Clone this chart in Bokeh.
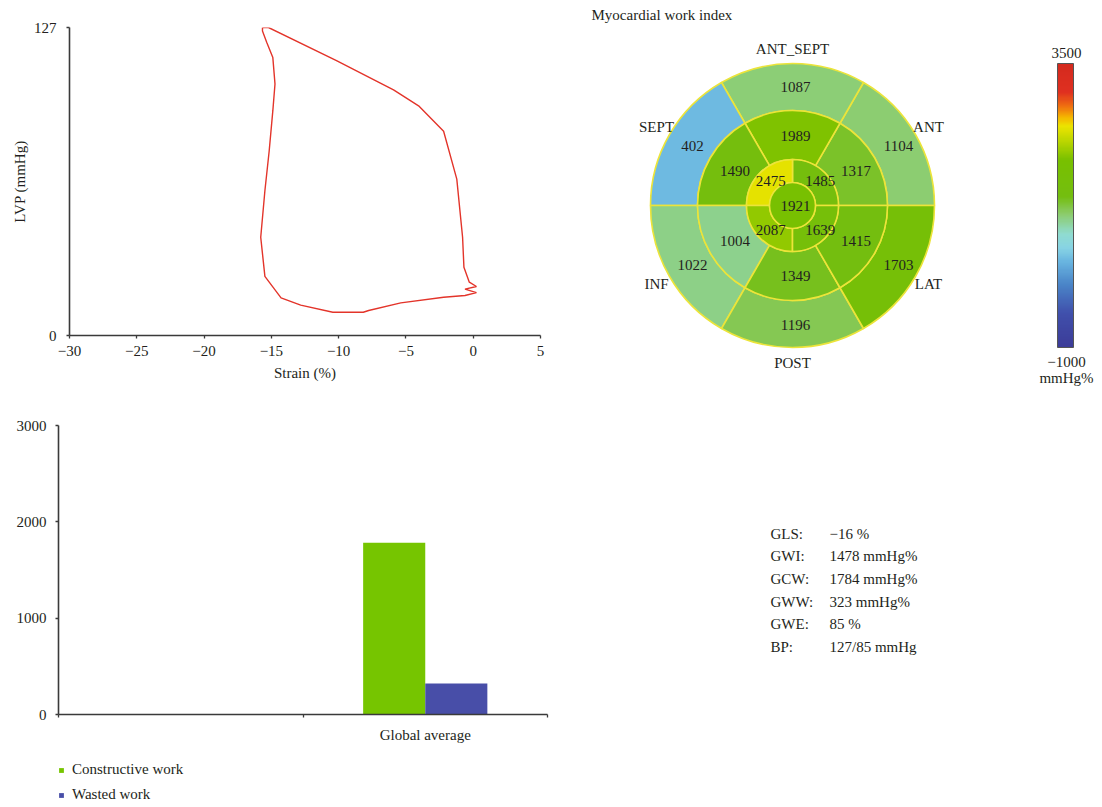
import numpy as np
from bokeh.plotting import figure
from bokeh.layouts import row, column
from bokeh.models import (Range1d, FixedTicker, ColumnDataSource, LinearColorMapper,
                          ColorBar, Legend, LegendItem)
from bokeh.transform import transform, dodge
from bokeh.core.properties import value
from bokeh.embed import file_html
from bokeh.resources import INLINE

# ---------------- data ----------------
# pressure-strain loop
strain = [-15.66, -15.21, -10.16, -5.92, -4.06, -2.20, -1.22, -0.79, -0.69, -0.29,
          0.24, -0.61, 0.24, -0.61, -2.20, -5.38, -7.77, -8.17, -10.43, -12.82,
          -14.28, -15.48, -15.79, -15.48, -15.16, -14.89, -14.73, -14.89, -15.34,
          -15.66, -15.66]
lvp = [127.0, 127.0, 113.3, 101.3, 94.7, 84.2, 64.5, 40.5, 28.1, 22.0,
       20.2, 19.1, 17.7, 16.5, 15.8, 13.45, 10.3, 9.6, 9.6, 12.5,
       15.5, 24.4, 40.5, 59.7, 76.2, 92.7, 103.7, 114.6, 120.8,
       125.6, 127.0]
pv_x_ticks = [-30, -25, -20, -15, -10, -5, 0, 5]
pv_y_ticks = [0, 127]

# constructive / wasted work bars
bar_categories = ["", "Global average"]
constructive_work = [np.nan, 1784]
wasted_work = [np.nan, 323]
bar_y_ticks = [0, 1000, 2000, 3000]
series_names = ["Constructive work", "Wasted work"]

# bull's-eye (myocardial work index), segments counter-clockwise from 3 o'clock
basal_names = ["ANT", "ANT_SEPT", "SEPT", "INF", "POST", "LAT"]
basal_values = [1104, 1087, 402, 1022, 1196, 1703]
mid_values = [1317, 1989, 1490, 1004, 1349, 1415]
apical_values = [1485, 2475, 2087, 1639]
apex_values = [1921]
scale_low, scale_high = -1000, 3500
scale_unit = "mmHg%"

stat_names = ["GLS:", "GWI:", "GCW:", "GWW:", "GWE:", "BP:"]
stat_values = ["\u221216 %", "1478 mmHg%", "1784 mmHg%", "323 mmHg%", "85 %", "127/85 mmHg"]

# ---------------- style ----------------
FONT = "Liberation Serif"
FS = "15px"
TXT = "#231f20"
AX = "#3a3a3a"
RED = "#e3342a"
GREEN = "#76c500"
BLUE = "#484ea8"
SEG_LINE = "#ece43a"

anchors = [(0.00, "#3c3c98"), (0.12, "#4050ac"), (0.22, "#4a84c8"), (0.30, "#68b4e0"),
           (0.35, "#88d4e4"), (0.40, "#90dcd0"), (0.47, "#8ccc6c"), (0.53, "#74be10"),
           (0.66, "#78c000"), (0.72, "#b4d400"), (0.78, "#ece400"), (0.81, "#f5b800"),
           (0.85, "#f07010"), (0.90, "#e03020"), (1.00, "#d42a1e")]


def hex2rgb(h):
    return [int(h[i:i + 2], 16) for i in (1, 3, 5)]


palette = []
for k in range(256):
    t = k / 255
    for (t0, c0), (t1, c1) in zip(anchors[:-1], anchors[1:]):
        if t0 <= t <= t1:
            w = (t - t0) / (t1 - t0)
            a, b = hex2rgb(c0), hex2rgb(c1)
            palette.append("#%02x%02x%02x" % tuple(round(a[i] + (b[i] - a[i]) * w) for i in range(3)))
            break


def style_axis(ax):
    ax.axis_line_color = AX
    ax.axis_line_width = 1.6
    ax.major_tick_line_color = AX
    ax.major_tick_line_width = 1.3
    ax.major_tick_in = 0
    ax.major_tick_out = 3
    ax.minor_tick_line_color = None
    ax.major_label_text_font = FONT
    ax.major_label_text_font_size = FS
    ax.major_label_text_color = TXT
    ax.axis_label_text_font = FONT
    ax.axis_label_text_font_size = FS
    ax.axis_label_text_font_style = "normal"
    ax.axis_label_text_color = TXT


def minus(v):
    return str(v).replace("-", "\u2212")


def no_align(p):
    try:
        p.frame_align = False
    except Exception:
        pass


# ---------------- pressure-strain loop ----------------
pv = figure(width=568, height=408, x_range=Range1d(-30, 5), y_range=Range1d(0, 127),
            output_backend="svg", toolbar_location=None,
            min_border_left=69, min_border_right=28, min_border_top=27, min_border_bottom=73)
no_align(pv)
pv.grid.visible = False
pv.outline_line_color = None
pv.xaxis.ticker = FixedTicker(ticks=pv_x_ticks)
pv.yaxis.ticker = FixedTicker(ticks=pv_y_ticks)
pv.xaxis.major_label_overrides = {t: minus(t) for t in pv_x_ticks}
pv.xaxis.axis_label = "Strain (%)"
pv.yaxis.axis_label = "LVP (mmHg)"
for ax in (pv.xaxis[0], pv.yaxis[0]):
    style_axis(ax)
pv.xaxis.major_label_standoff = 7
pv.yaxis.major_label_standoff = 10
pv.xaxis.axis_label_standoff = 6
pv.yaxis.axis_label_standoff = 3
pv.line(strain, lvp, line_color=RED, line_width=1.4)

# ---------------- bar chart ----------------
bar = figure(width=568, height=337, x_range=Range1d(0, len(bar_categories)),
             y_range=Range1d(0, bar_y_ticks[-1]),
             output_backend="svg", toolbar_location=None,
             min_border_left=58, min_border_right=21, min_border_top=17, min_border_bottom=28)
no_align(bar)
bar.grid.visible = False
bar.outline_line_color = None
centers = [i + 0.5 for i in range(len(bar_categories))]
bar.xaxis.ticker = FixedTicker(ticks=centers,
                               minor_ticks=list(range(len(bar_categories) + 1)))
bar.xaxis.major_label_overrides = {c: lab for c, lab in zip(centers, bar_categories)}
bar.yaxis.ticker = FixedTicker(ticks=bar_y_ticks)
for ax in (bar.xaxis[0], bar.yaxis[0]):
    style_axis(ax)
bar.xaxis.major_tick_out = 0
bar.xaxis.major_tick_line_color = None
bar.xaxis.minor_tick_line_color = AX
bar.xaxis.minor_tick_line_width = 1.3
bar.xaxis.minor_tick_in = 0
bar.xaxis.minor_tick_out = 3
bar.xaxis.major_label_standoff = 9
bar.yaxis.major_label_standoff = 9

bsrc = ColumnDataSource(dict(x=centers, cw=constructive_work, ww=wasted_work))
bar_specs = [("cw", -0.127, GREEN), ("ww", 0.127, BLUE)]
for col, off, colr in bar_specs:
    bar.vbar(x=dodge("x", off), top=col, width=0.254, source=bsrc,
             fill_color=colr, line_color=None)

# ---------------- legend strip under the bar chart ----------------
# same series drawn again in a strip whose ranges keep them out of view;
# only its legend is seen
LG_H = 60
lg = figure(width=568, height=LG_H, x_range=Range1d(-10, -9), y_range=Range1d(-10, -9),
            output_backend="svg", toolbar_location=None, min_border=0,
            x_axis_type=None, y_axis_type=None)
no_align(lg)
lg.grid.visible = False
lg.outline_line_color = None
items = []
for (col, off, colr), name in zip(bar_specs, series_names):
    r = lg.vbar(x=dodge("x", off), top=col, width=0.254, source=bsrc,
                fill_color=colr, line_color=None)
    items.append(LegendItem(label=name, renderers=[r], index=1))
legend = Legend(items=items, location=(58, 2), orientation="vertical",
                glyph_width=6, glyph_height=6, label_height=17, spacing=8,
                padding=0, margin=0, border_line_color=None, background_fill_alpha=0,
                label_text_font=FONT, label_text_font_size=FS, label_text_color=TXT,
                label_standoff=8)
lg.add_layout(legend)

# ---------------- bull's-eye ----------------
RF_W, RF_H = 530, 805
CX, CY = 792 - 568, 205          # centre of the bull's-eye in panel pixels
rf = figure(width=RF_W, height=RF_H, x_range=Range1d(-CX, RF_W - CX),
            y_range=Range1d(CY - RF_H, CY),
            output_backend="svg", toolbar_location=None, min_border=0,
            x_axis_type=None, y_axis_type=None)
rf.grid.visible = False
rf.outline_line_color = None

mapper = LinearColorMapper(palette=palette, low=scale_low, high=scale_high)

rings = [(basal_values, 95, 142, 119), (mid_values, 46, 95, 70), (apical_values, 23, 46, 35)]
LABEL_DX = 3
w = dict(val=[], inner=[], outer=[], start=[], end=[])
lab = dict(x=[], y=[], text=[])
for vals, r_in, r_out, r_lab in rings:
    n = len(vals)
    for i, v in enumerate(vals):
        a0, a1 = 2 * np.pi * i / n, 2 * np.pi * (i + 1) / n
        w["val"].append(v); w["inner"].append(r_in); w["outer"].append(r_out)
        w["start"].append(a0); w["end"].append(a1)
        am = (a0 + a1) / 2
        lab["x"].append(LABEL_DX + r_lab * np.cos(am))
        lab["y"].append(r_lab * np.sin(am))
        lab["text"].append(str(v))
rf.annular_wedge(x=0, y=0, inner_radius="inner", outer_radius="outer",
                 start_angle="start", end_angle="end", source=ColumnDataSource(w),
                 fill_color=transform("val", mapper), line_color=SEG_LINE, line_width=1.6)
apex_src = ColumnDataSource(dict(x=[0] * len(apex_values), y=[0] * len(apex_values),
                                 val=apex_values))
rf.circle(x="x", y="y", radius=23, fill_color=transform("val", mapper),
          line_color=SEG_LINE, line_width=1.6, source=apex_src)
lab["x"].append(LABEL_DX); lab["y"].append(0); lab["text"].append(str(apex_values[0]))
rf.text(x="x", y="y", text="text", source=ColumnDataSource(lab),
        text_font=value(FONT), text_font_size=FS, text_color=TXT,
        text_align="center", text_baseline="middle")

# segment names around the outer ring
nn = len(basal_names)
name_r = 157
rf.text(x=[name_r * np.cos(2 * np.pi * (i + 0.5) / nn) for i in range(nn)],
        y=[name_r * np.sin(2 * np.pi * (i + 0.5) / nn) for i in range(nn)],
        text=basal_names, text_font=value(FONT), text_font_size=FS, text_color=TXT,
        text_align="center", text_baseline="middle")

rf.text(x=[591 - 792], y=[205 - 14], text=["Myocardial work index"], text_font=value(FONT),
        text_font_size=FS, text_color=TXT, text_align="left", text_baseline="middle")

# colour bar
cb = ColorBar(color_mapper=mapper, width=16, height=284,
              location=(1057 - 568, RF_H - 347),
              padding=0, ticker=FixedTicker(ticks=[]), major_tick_line_color=None,
              major_label_text_font_size="0px", bar_line_color="#555555",
              border_line_color=None, background_fill_alpha=0)
rf.add_layout(cb)
rf.text(x=[274, 274, 274], y=[153, -156, -172],
        text=[minus(scale_high), minus(scale_low), scale_unit],
        text_font=value(FONT), text_font_size=FS, text_color=TXT,
        text_align="center", text_baseline="middle")

# global indices
ys = [-328 - 22.7 * i for i in range(len(stat_names))]
rf.text(x=[770 - 792] * len(stat_names), y=ys, text=stat_names, text_font=value(FONT),
        text_font_size=FS, text_color=TXT, text_align="left", text_baseline="middle")
rf.text(x=[829 - 792] * len(stat_values), y=ys, text=stat_values, text_font=value(FONT),
        text_font_size=FS, text_color=TXT, text_align="left", text_baseline="middle")

layout = row(column(pv, bar, lg), rf)
open("out.html", "w").write(file_html(layout, INLINE))
